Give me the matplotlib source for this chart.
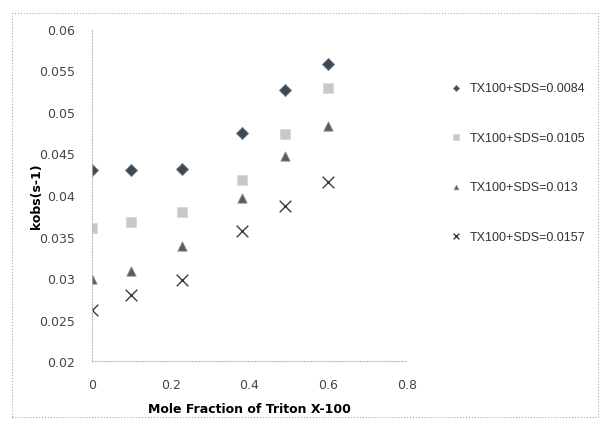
import matplotlib
matplotlib.use("Agg")
import matplotlib.pyplot as plt
from matplotlib.patches import Rectangle

# mole fraction of Triton X-100
mole_frac = [0, 0.1, 0.23, 0.38, 0.49, 0.6]

# kobs values, one list per series
k_0084 = [0.0430, 0.0430, 0.0431, 0.0475, 0.0527, 0.0558]
k_0105 = [0.0360, 0.0367, 0.0379, 0.0418, 0.0473, 0.0529]
k_013 = [0.0299, 0.0308, 0.0338, 0.0396, 0.0447, 0.0483]
k_0157 = [0.0261, 0.0279, 0.0298, 0.0357, 0.0387, 0.0416]

labels = ["TX100+SDS=0.0084", "TX100+SDS=0.0105", "TX100+SDS=0.013", "TX100+SDS=0.0157"]
x_ticks = [0, 0.2, 0.4, 0.6, 0.8]
y_ticks = [0.02, 0.025, 0.03, 0.035, 0.04, 0.045, 0.05, 0.055, 0.06]

fig = plt.figure(figsize=(6.01, 4.27), dpi=100)
ax = fig.add_axes([0.153, 0.152, 0.524, 0.778])

ax.scatter(mole_frac, k_0084, marker="D", s=38, color="#3d4a56", edgecolors="#6f7a84", linewidths=0.6, label=labels[0])
ax.scatter(mole_frac, k_0105, marker="s", s=55, color="#c8c8c8", edgecolors="#d8d8d8", linewidths=0.6, label=labels[1])
ax.scatter(mole_frac, k_013, marker="^", s=45, color="#555b60", edgecolors="#8a9096", linewidths=0.6, label=labels[2])
ax.scatter(mole_frac, k_0157, marker="x", s=70, color="#3a3a3a", linewidths=1.0, label=labels[3])

ax.set_xlim(0, 0.8)
ax.set_ylim(0.02, 0.06)
ax.set_xticks(x_ticks)
ax.set_xticklabels(["0", "0.2", "0.4", "0.6", "0.8"])
ax.set_yticks(y_ticks)
ax.set_yticklabels(["0.02", "0.025", "0.03", "0.035", "0.04", "0.045", "0.05", "0.055", "0.06"])
ax.tick_params(length=0, labelsize=9, colors="#444444", pad=12)

for side in ["top", "right"]:
    ax.spines[side].set_visible(False)
for side in ["left", "bottom"]:
    ax.spines[side].set_color("#bbbbbb")
    ax.spines[side].set_linestyle(":")
    ax.spines[side].set_linewidth(0.8)

ax.set_xlabel("Mole Fraction of Triton X-100", fontsize=9, fontweight="bold", labelpad=8)
ax.set_ylabel("kobs(s-1)", fontsize=9, fontweight="bold", labelpad=-3)

leg = fig.legend(loc="upper left", bbox_to_anchor=(0.727, 0.82), frameon=False,
                 prop={"family": "Liberation Sans", "size": 9},
                 labelspacing=3.0, handletextpad=0.1, markerscale=0.5, borderpad=0)
for t in leg.get_texts():
    t.set_color("#333333")

# faint dotted border round the whole chart
fig.patches.append(Rectangle((0.02, 0.02), 0.975, 0.948, transform=fig.transFigure,
                             fill=False, edgecolor="#aaaaaa", linestyle=":", linewidth=0.8))

plt.savefig("out.png", dpi=100)
plt.close()
